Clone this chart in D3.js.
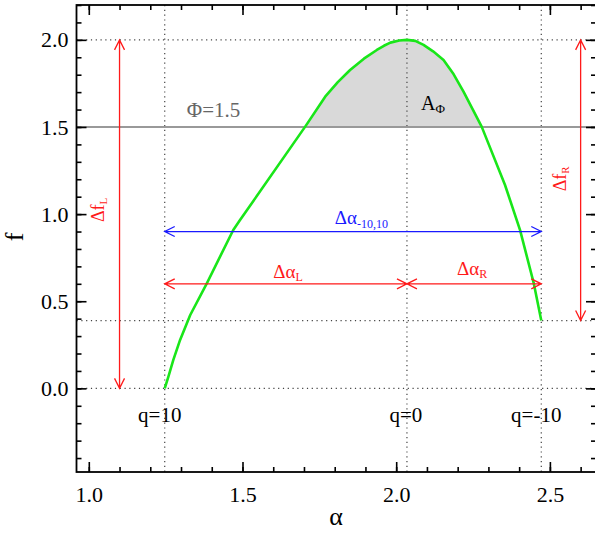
<!DOCTYPE html>
<html><head><meta charset="utf-8">
<script src="https://cdn.jsdelivr.net/npm/d3@7"></script>
<style>
body{margin:0;background:#fff}
svg{display:block;font-family:"Liberation Serif","Times New Roman",serif}
</style>
</head><body>
<svg id="c" width="595" height="536"></svg>
<script>
// ---- data ----
const curveAlpha = [1.247, 1.259, 1.275, 1.297, 1.330, 1.384, 1.470, 1.492, 1.704, 1.769, 1.810, 1.850, 1.895, 1.937, 1.960, 1.981, 2.010, 2.035, 2.062, 2.089, 2.120, 2.154, 2.187, 2.219, 2.278, 2.354, 2.403, 2.447, 2.472];
const curveF     = [0.000, 0.067, 0.163, 0.278, 0.421, 0.603, 0.909, 0.966, 1.502, 1.674, 1.757, 1.827, 1.892, 1.942, 1.966, 1.984, 1.996, 2.000, 1.994, 1.971, 1.934, 1.885, 1.802, 1.703, 1.502, 1.167, 0.908, 0.607, 0.389];
const xMajorTicks = [1.0, 1.5, 2.0, 2.5];
const xTickLabels = ["1.0", "1.5", "2.0", "2.5"];
const yMajorTicks = [0.0, 0.5, 1.0, 1.5, 2.0];
const yTickLabels = ["0.0", "0.5", "1.0", "1.5", "2.0"];
const qAlpha  = [1.247, 2.035, 2.472];
const qLabels = ["q=10", "q=0", "q=-10"];
const fLevels = [2.0, 0.389, 0.0];   // dotted horizontal reference levels
const phiLevel = 1.5;
const hArrows = [ // [alpha0, alpha1, f]
  [1.247, 2.472, 0.90],
  [1.247, 2.035, 0.60],
  [2.035, 2.472, 0.60]
];
const vArrows = [ // [alpha, f0, f1]
  [1.10, 0.0, 2.0],
  [2.60, 0.389, 2.0]
];

// ---- layout ----
const L = 76.5, T = 5, B = 472, R = 596;
const svg = d3.select("#c");
const x = d3.scaleLinear().domain([0.96, 2.65]).range([L, R]);
const y = d3.scaleLinear().domain([-0.48, 2.2]).range([B, T]);
const pts = curveAlpha.map((a, i) => [a, curveF[i]]);

// shaded area A_Phi
svg.append("clipPath").attr("id", "above").append("rect")
  .attr("x", L).attr("y", T).attr("width", R - L).attr("height", y(phiLevel) - T);
svg.append("path").datum(pts)
  .attr("clip-path", "url(#above)")
  .attr("fill", "#d9d9d9")
  .attr("d", d3.area().x(d => x(d[0])).y0(y(phiLevel)).y1(d => y(d[1])));

// dotted reference lines
const dot = {stroke: "#444", "stroke-width": 1.2, "stroke-dasharray": "1.2,3.6"};
qAlpha.forEach(a => {
  const l = svg.append("line").attr("x1", x(a)).attr("x2", x(a)).attr("y1", T).attr("y2", B);
  Object.entries(dot).forEach(([k, v]) => l.attr(k, v));
});
fLevels.forEach(f => {
  const l = svg.append("line").attr("x1", L).attr("x2", R).attr("y1", y(f)).attr("y2", y(f));
  Object.entries(dot).forEach(([k, v]) => l.attr(k, v));
});

// Phi line
svg.append("line").attr("x1", L).attr("x2", R).attr("y1", y(phiLevel)).attr("y2", y(phiLevel))
  .attr("stroke", "#999").attr("stroke-width", 1.8);

// curve
svg.append("path").datum(pts)
  .attr("fill", "none").attr("stroke", "#19e619").attr("stroke-width", 2.6)
  .attr("stroke-linejoin", "round")
  .attr("d", d3.line().x(d => x(d[0])).y(d => y(d[1])));

// arrows
const HL = 10, HW = 5;
function head(px, py, dx, dy) { // tip at px,py pointing direction dx,dy (unit)
  const bx = px - dx * HL, by = py - dy * HL;
  return `M${bx - dy * HW},${by + dx * HW}L${px},${py}L${bx + dy * HW},${by - dx * HW}`;
}
hArrows.forEach((d, i) => {
  const col = i === 0 ? "#1a1aff" : "#ff1a1a";
  const x0 = x(d[0]), x1 = x(d[1]), yy = y(d[2]);
  svg.append("path").attr("fill", "none").attr("stroke", col).attr("stroke-width", 1.3)
    .attr("d", `M${x0},${yy}L${x1},${yy}` + head(x0, yy, -1, 0) + head(x1, yy, 1, 0));
});
vArrows.forEach(d => {
  const xx = x(d[0]), y0 = y(d[1]), y1 = y(d[2]);
  svg.append("path").attr("fill", "none").attr("stroke", "#ff1a1a").attr("stroke-width", 1.3)
    .attr("d", `M${xx},${y0}L${xx},${y1}` + head(xx, y0, 0, 1) + head(xx, y1, 0, -1));
});

// axes
function styleAxis(g) {
  g.select(".domain").remove();
  g.selectAll(".tick line").attr("stroke", "#000").attr("stroke-width", 1.6);
  g.selectAll(".tick text").attr("fill", "#000").attr("font-size", 22)
    .attr("font-family", '"Liberation Serif","Times New Roman",serif');
}
const xMinor = d3.range(10, 27).map(d => d / 10);
const yMinor = d3.range(-4, 23).map(d => d / 10);
svg.append("g").attr("transform", `translate(0,${B})`)
  .call(d3.axisBottom(x).tickValues(xMinor).tickSize(-5).tickFormat("")).call(styleAxis);
svg.append("g").attr("transform", `translate(0,${B})`)
  .call(d3.axisBottom(x).tickValues(xMajorTicks).tickSizeInner(-10).tickSizeOuter(0).tickPadding(14)
    .tickFormat((d, i) => xTickLabels[i])).call(styleAxis);
svg.append("g").attr("transform", `translate(0,${T})`)
  .call(d3.axisTop(x).tickValues(xMinor).tickSize(-5).tickFormat("")).call(styleAxis);
svg.append("g").attr("transform", `translate(0,${T})`)
  .call(d3.axisTop(x).tickValues(xMajorTicks).tickSize(-10).tickFormat("")).call(styleAxis);
svg.append("g").attr("transform", `translate(${L},0)`)
  .call(d3.axisLeft(y).tickValues(yMinor).tickSize(-5).tickFormat("")).call(styleAxis);
svg.append("g").attr("transform", `translate(${L},0)`)
  .call(d3.axisLeft(y).tickValues(yMajorTicks).tickSizeInner(-10).tickSizeOuter(0).tickPadding(8)
    .tickFormat((d, i) => yTickLabels[i])).call(styleAxis);
svg.append("g").attr("transform", `translate(${R},0)`)
  .call(d3.axisRight(y).tickValues(yMinor).tickSize(-5).tickFormat("")).call(styleAxis);
svg.append("g").attr("transform", `translate(${R},0)`)
  .call(d3.axisRight(y).tickValues(yMajorTicks).tickSize(-10).tickFormat("")).call(styleAxis);

// frame
svg.append("rect").attr("x", L).attr("y", T).attr("width", R - L).attr("height", B - T)
  .attr("fill", "none").attr("stroke", "#000").attr("stroke-width", 1.8);

// axis titles
svg.append("text").attr("x", 336).attr("y", 525).attr("text-anchor", "middle")
  .attr("font-size", 26).text("α");
svg.append("text").attr("transform", "translate(23,237) rotate(-90)").attr("text-anchor", "middle")
  .attr("font-size", 26).text("f");

// q labels
qAlpha.forEach((a, i) => {
  svg.append("text").attr("x", x(a) - (i === 1 ? 1 : 5)).attr("y", y(-0.193))
    .attr("text-anchor", "middle").attr("font-size", 21).text(qLabels[i]);
});

// annotations
function sub(sel, main, s, size, subSize, shift) {
  sel.append("tspan").attr("font-size", size).text(main);
  sel.append("tspan").attr("font-size", subSize).attr("dy", shift).text(s);
}
svg.append("text").attr("x", x(1.319)).attr("y", y(1.556)).attr("fill", "#666")
  .attr("font-size", 21).text("Φ=1.5");
sub(svg.append("text").attr("x", x(2.081)).attr("y", y(1.598)).attr("fill", "#000"),
  "A", "Φ", 20, 13, 3);
sub(svg.append("text").attr("x", x(1.80)).attr("y", y(0.943)).attr("fill", "#1a1aff"),
  "Δα", "-10,10", 19, 12, 4);
sub(svg.append("text").attr("x", x(1.60)).attr("y", y(0.634)).attr("fill", "#ff1a1a"),
  "Δα", "L", 19, 12, 3);
sub(svg.append("text").attr("x", x(2.198)).attr("y", y(0.651)).attr("fill", "#ff1a1a"),
  "Δα", "R", 19, 12, 3);
sub(svg.append("text").attr("text-anchor", "middle").attr("fill", "#ff1a1a")
  .attr("transform", `translate(${x(1.051)},${y(1.024)}) rotate(-90)`),
  "Δf", "L", 18, 11, 3);
sub(svg.append("text").attr("text-anchor", "middle").attr("fill", "#ff1a1a")
  .attr("transform", `translate(${x(2.553)},${y(1.202)}) rotate(-90)`),
  "Δf", "R", 18, 11, 3);
</script>
</body></html>
